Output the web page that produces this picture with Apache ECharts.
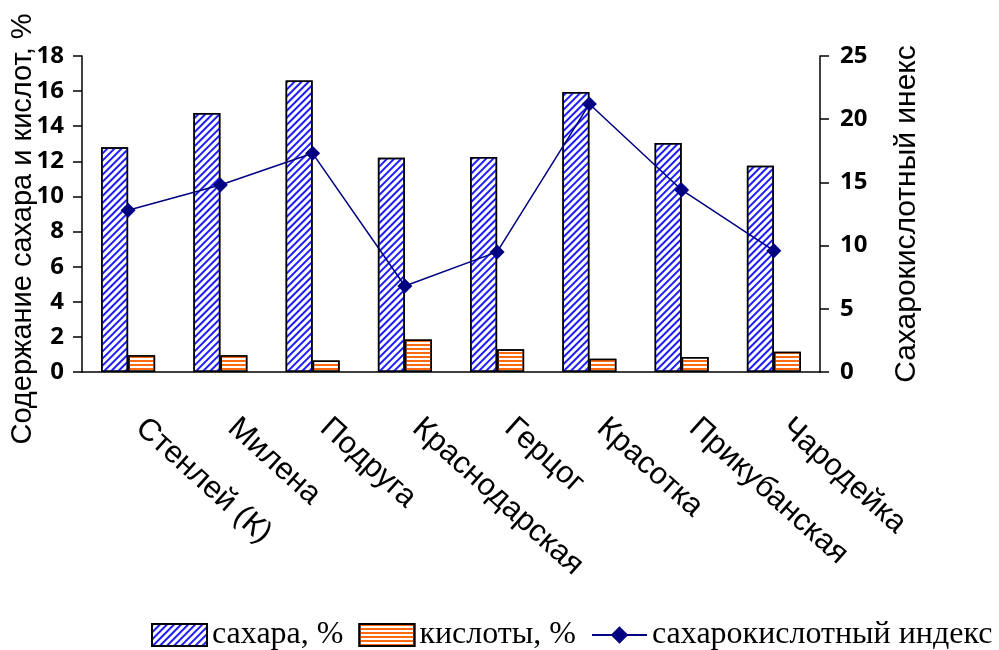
<!DOCTYPE html>
<html>
<head>
    <meta charset="utf-8">
    <title>Сахарокислотный индекс</title>
</head>
<body style="margin:0">
    <div id="main" style="width: 999px; height: 650px;"></div>
    <script src="https://cdn.jsdelivr.net/npm/echarts@6/dist/echarts.min.js"></script>
    <script type="text/javascript">
        // данные с графика
        var sorts = ['Стенлей (К)', 'Милена', 'Подруга', 'Краснодарская', 'Герцог', 'Красотка', 'Прикубанская', 'Чародейка'];
        var sugar = [12.8, 14.75, 16.6, 12.2, 12.25, 15.95, 13.05, 11.75];
        var acid = [0.95, 0.95, 0.65, 1.85, 1.3, 0.75, 0.85, 1.15];
        var index = [12.8, 14.8, 17.3, 6.8, 9.5, 21.2, 14.4, 9.6];

        var chartDom = document.getElementById('main');
        var myChart = echarts.init(chartDom);

        var tickFont = { fontFamily: 'Open Sans', fontWeight: 'bold', fontSize: 24, color: '#000' };

        var option = {
            animation: false,
            grid: { left: 82, right: 179, top: 56, bottom: 278, outerBoundsMode: 'none' },
            legend: {
                left: 146, top: 614, width: 853,
                itemWidth: 55, itemHeight: 22, itemGap: 15,
                textStyle: { fontFamily: 'Liberation Serif', fontSize: 32, color: '#000' },
                data: [
                    { name: 'сахара, %', icon: 'rect' },
                    { name: 'кислоты, %', icon: 'rect' },
                    'сахарокислотный индекс'
                ]
            },
            xAxis: {
                type: 'category',
                data: sorts,
                axisLine: { lineStyle: { color: '#000', width: 1.5 } },
                axisTick: { length: 10, lineStyle: { color: '#000', width: 1.5 } },
                axisLabel: {
                    rotate: -42, margin: 41, interval: 0, padding: [0, 0, 0, 16],
                    fontFamily: 'Liberation Sans', fontSize: 31, color: '#000'
                }
            },
            yAxis: [
                {
                    type: 'value', min: 0, max: 18, interval: 2,
                    name: 'Содержание сахара и кислот, %',
                    nameLocation: 'middle', nameGap: 45, nameRotate: 90, nameMoveOverlap: false,
                    nameTextStyle: { fontFamily: 'Liberation Sans', fontSize: 29, color: '#000', padding: [0, 30, 0, 0] },
                    axisLine: { show: true, lineStyle: { color: '#000', width: 1.5 } },
                    axisTick: { show: true, length: 9, lineStyle: { color: '#000', width: 1.5 } },
                    axisLabel: Object.assign({ margin: 18 }, tickFont),
                    splitLine: { show: false }
                },
                {
                    type: 'value', min: 0, max: 25, interval: 5,
                    name: 'Сахарокислотный инекс',
                    nameLocation: 'middle', nameGap: 72, nameRotate: 90,
                    nameTextStyle: { fontFamily: 'Liberation Sans', fontSize: 30, color: '#000' },
                    axisLine: { show: true, lineStyle: { color: '#000', width: 1.5 } },
                    axisTick: { show: true, length: 9, lineStyle: { color: '#000', width: 1.5 } },
                    axisLabel: Object.assign({ margin: 20 }, tickFont),
                    splitLine: { show: false }
                }
            ],
            series: [
                {
                    name: 'сахара, %',
                    type: 'bar',
                    data: sugar,
                    barWidth: 27,
                    barGap: '0%',
                    itemStyle: {
                        color: '#fff', borderColor: '#000', borderWidth: 1.5,
                        decal: { symbol: 'rect', color: '#1c1cff', dashArrayX: [1, 0], dashArrayY: [2, 3], rotation: -Math.PI / 4 }
                    }
                },
                {
                    name: 'кислоты, %',
                    type: 'bar',
                    data: acid,
                    barWidth: 27,
                    itemStyle: {
                        color: '#fff', borderColor: '#000', borderWidth: 1.5,
                        decal: { symbol: 'rect', color: '#ff6a10', dashArrayX: [1, 0], dashArrayY: [2, 2], rotation: 0 }
                    }
                },
                {
                    name: 'сахарокислотный индекс',
                    type: 'line',
                    yAxisIndex: 1,
                    data: index,
                    symbol: 'diamond',
                    symbolSize: 15,
                    lineStyle: { color: '#000080', width: 1.5 },
                    itemStyle: { color: '#000080' }
                }
            ]
        };

        myChart.setOption(option);
    </script>
</body>
</html>
